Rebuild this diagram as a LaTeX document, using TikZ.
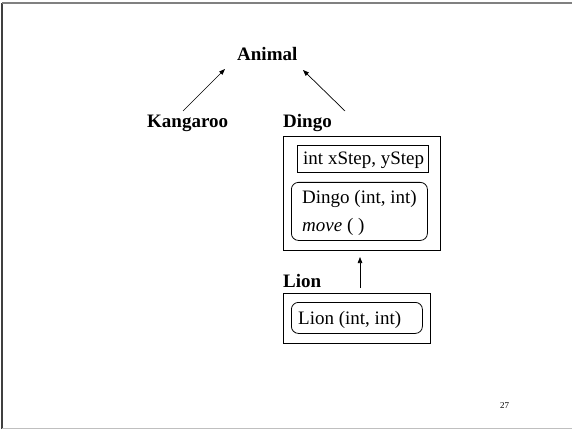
\documentclass[tikz,border=0pt]{standalone}
\usepackage{fontspec}
\setmainfont{Liberation Serif}
\usetikzlibrary{arrows.meta}
\begin{document}
\begin{tikzpicture}[x=1pt,y=-1pt,
  classname/.style={font=\fontsize{19}{22}\selectfont\bfseries, inner sep=0pt, anchor=base west},
  member/.style={font=\fontsize{19}{22}\selectfont, inner sep=0pt, anchor=base west},
  frame/.style={draw, line width=0.8pt, inner sep=0pt, anchor=north west},
  roundframe/.style={frame, rounded corners=7pt},
  link/.style={line width=0.7pt, -{Triangle[length=6pt,width=4.5pt]}}]
\useasboundingbox (0,0) rectangle (572,430);

% slide border
\draw[line width=1.6pt, black!75] (2,3) -- (2,429);
\draw[line width=1.2pt, black!50] (2,3) -- (572,3);
\draw[line width=1.2pt, black!25] (2,428.5) -- (572,428.5);

% class names
\node[classname] (animal) at (237,61) {Animal};
\node[classname] (kangaroo) at (147,128) {Kangaroo};
\node[classname] (dingo) at (283,128) {Dingo};
\node[classname] (lion) at (283,287) {Lion};

% Dingo class box
\node[frame, minimum width=157pt, minimum height=114pt] (dingobox) at (283,136) {};
\node[frame, minimum width=131pt, minimum height=27pt] (fields) at (297,145) {};
\node[member] (fieldtext) at (303,164.5) {int xStep, yStep};
\node[roundframe, minimum width=136pt, minimum height=58pt] (methods) at (291,182) {};
\node[member] (ctor) at (302,204) {Dingo (int, int)};
\node[member] (move) at (302,232) {\textit{move} ( )};

% Lion class box
\node[frame, minimum width=147pt, minimum height=50pt] (lionbox) at (283,293) {};
\node[roundframe, minimum width=131pt, minimum height=31pt] (lionmethods) at (291,302) {};
\node[member] (lionctor) at (298,324) {Lion (int, int)};

% page number
\node[font=\fontsize{9}{10}\selectfont, inner sep=0pt, anchor=base west] (page) at (500,408) {27};

% inheritance arrows
\coordinate (kTail) at (183,111);
\coordinate (kHead) at (225,69);
\coordinate (dTail) at (345,111);
\coordinate (dHead) at (303,70);
\coordinate (lTail) at (360,288);
\coordinate (lHead) at (360,257);
\draw[link] (kTail) -- (kHead);
\draw[link] (dTail) -- (dHead);
\draw[link] (lTail) -- (lHead);
\end{tikzpicture}
\end{document}
